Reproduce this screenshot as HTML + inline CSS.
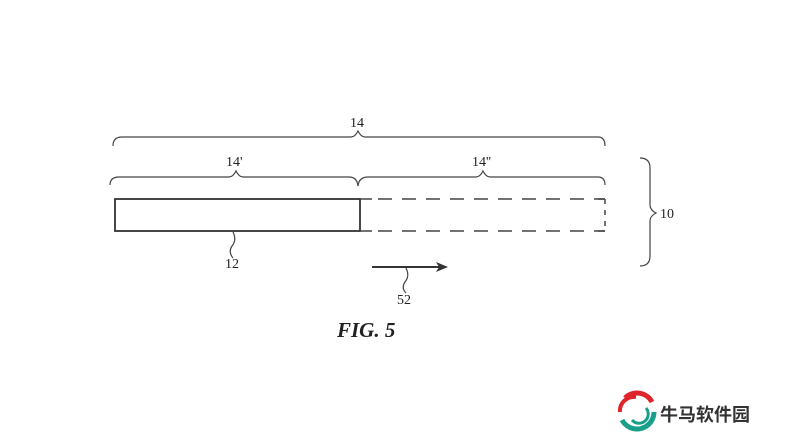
<!DOCTYPE html>
<html><head><meta charset="utf-8"><style>
body{margin:0;background:#fff;width:790px;height:442px;overflow:hidden}
svg{position:absolute;left:0;top:0}
text{font-family:"Liberation Serif",serif;fill:#222}
</style></head><body>
<svg width="790" height="442" viewBox="0 0 790 442">
<g fill="none" stroke="#444" stroke-width="1.2">
<path d="M113,146 Q113,137 122,137 L351,137 Q355,137 358,131 Q361,137 365,137 L598,137 Q605,137 605,146"/>
<path d="M110,185 Q110,177 119,177 L229,177 Q233,177 236,171 Q239,177 243,177 L349,177 Q357,177 358,186 Q359,177 368,177 L476,177 Q480,177 483,171 Q486,177 490,177 L598,177 Q605,177 605,185"/>
<path d="M640,158 Q650,158 650,168 L650,205 Q650,210 656,213 Q650,216 650,221 L650,256 Q650,266 640,266"/>
<path d="M233,232 Q237,240 232,246 Q228,252 233,258"/>
<path d="M406,268 Q410,276 405,282 Q401,288 406,293"/>
</g>
<rect x="115" y="199" width="245" height="32" fill="none" stroke="#333" stroke-width="1.8"/>
<g stroke="#444" stroke-width="1.5" fill="none">
<path d="M360,199 H372 M360,231 H372"/>
<path d="M378,199 H605 M378,231 H605" stroke-dasharray="14,10"/>
<path d="M605,199 V231" stroke-dasharray="5,6"/>
<path d="M598,199 H605 M598,231 H605"/>
</g>
<line x1="372" y1="267" x2="440" y2="267" stroke="#333" stroke-width="2"/>
<path d="M436,262 L448,267 L436,272 L439,267 Z" fill="#333"/>
<text x="350" y="127" font-size="14">14</text>
<text x="226" y="166" font-size="14">14'</text>
<text x="472" y="166" font-size="14">14''</text>
<text x="660" y="218" font-size="14">10</text>
<text x="225" y="268" font-size="14">12</text>
<text x="397" y="304" font-size="14">52</text>
<text x="337" y="337" font-size="21" font-weight="bold" font-style="italic">FIG. 5</text>
</svg>
<svg width="790" height="442" viewBox="0 0 790 442">
<path d="M625,398 A17,17 0 0 1 652,402" stroke="#e0242b" stroke-width="5" fill="none"/>
<path d="M620,412 A14,14 0 0 1 636,397" stroke="#e0242b" stroke-width="4" fill="none"/>
<path d="M622,420 A17,17 0 0 0 654,412" stroke="#1aa08a" stroke-width="5" fill="none"/>
<path d="M646,408 A9,9 0 0 1 632,420" stroke="#1aa08a" stroke-width="3" fill="none"/>
<text x="660" y="421" font-size="18" font-weight="bold" style="font-family:'Noto Sans CJK SC',sans-serif;fill:#333">牛马软件园</text>
</svg>
</body></html>
